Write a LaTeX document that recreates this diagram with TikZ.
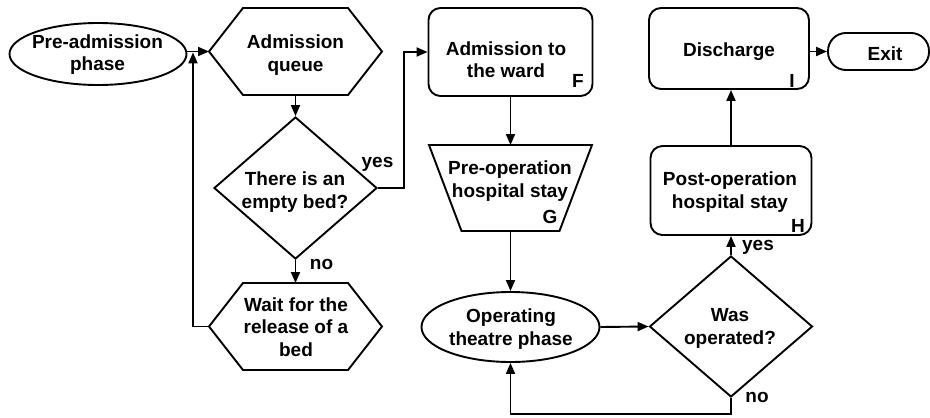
\documentclass[tikz,border=0pt]{standalone}
\usepackage{fontspec}
\setmainfont{Liberation Sans}
\usetikzlibrary{shapes.geometric,arrows.meta,calc}
\begin{document}
\begin{tikzpicture}[x=1pt,y=-1pt,line width=1.9pt,
  lbl/.style={font=\bfseries\fontsize{19}{22.5}\selectfont, align=center, inner sep=0pt, text depth=0pt},
  sm/.style={font=\bfseries\fontsize{19}{22.5}\selectfont, inner sep=0pt, anchor=base},
  outline/.style={draw, inner sep=0pt},
  frame/.style={inner sep=0pt, outer sep=0pt},
  rbox/.style={outline, rectangle, rounded corners=12pt},
  arr/.style={-{Triangle[length=11pt,width=9pt]}}]
\useasboundingbox (0,0) rectangle (930,418);

% shapes
\node[outline, ellipse, minimum width=177pt, minimum height=62pt] (pre) at (98,54) {};
\node[frame, minimum width=173pt, minimum height=87pt] (aq) at (295.5,51.5) {};
\draw (aq.west) -- ([xshift=34pt]aq.north west) -- ([xshift=-34pt]aq.north east) -- (aq.east)
  -- ([xshift=-34pt]aq.south east) -- ([xshift=34pt]aq.south west) -- cycle;
\node[outline, diamond, aspect=1.148, minimum width=163pt, minimum height=142pt] (bed) at (295.5,188) {};
\node[frame, minimum width=173pt, minimum height=87pt] (wait) at (295.5,326.5) {};
\draw (wait.west) -- ([xshift=34pt]wait.north west) -- ([xshift=-34pt]wait.north east) -- (wait.east)
  -- ([xshift=-34pt]wait.south east) -- ([xshift=34pt]wait.south west) -- cycle;
\node[rbox, minimum width=164pt, minimum height=88pt] (ward) at (510.5,52) {};
\node[frame, minimum width=163pt, minimum height=86pt] (preop) at (510.5,188) {};
\draw (preop.north west) -- (preop.north east) -- ([xshift=-32.5pt]preop.south east)
  -- ([xshift=32.5pt]preop.south west) -- cycle;
\node[outline, ellipse, minimum width=178pt, minimum height=70pt] (op) at (510.5,327) {};
\node[outline, diamond, aspect=1.156, minimum width=163pt, minimum height=141pt] (was) at (731,326.5) {};
\node[rbox, minimum width=161pt, minimum height=89pt] (post) at (731,190.5) {};
\node[rbox, minimum width=160pt, minimum height=81pt] (disc) at (729,48.5) {};
\node[outline, rectangle, rounded corners=18pt, minimum width=101pt, minimum height=37pt] (exit) at (878.5,51.5) {};

% texts
\node[lbl] (pre-t) at (97.5,52.5) {Pre-admission\\phase};
\node[lbl] (aq-t) at (295.5,53) {Admission\\queue};
\node[lbl] (bed-t) at (295,190) {There is an\\empty bed?};
\node[lbl] (wait-t) at (296,327) {Wait for the\\release of a\\bed};
\node[lbl] (ward-t) at (506,59.5) {Admission to\\the ward};
\node[lbl] (preop-t) at (510,179) {Pre-operation\\hospital stay};
\node[lbl] (op-t) at (511,327) {Operating\\theatre phase};
\node[lbl] (was-t) at (730,326.5) {Was\\operated?};
\node[lbl] (post-t) at (730,190) {Post-operation\\hospital stay};
\node[lbl] (disc-t) at (729,50) {Discharge};
\node[lbl] (exit-t) at (885,53.5) {Exit};

\node[sm] (lF) at (578,87) {F};
\node[sm] (lG) at (550,223) {G};
\node[sm] (lH) at (798,232) {H};
\node[sm] (lI) at (792,87) {I};

\node[sm] (yes1) at (377.5,167) {yes};
\node[sm] (no1) at (321.5,269) {no};
\node[sm] (yes2) at (758,250) {yes};
\node[sm] (no2) at (757,402) {no};

% connectors
\coordinate (loopx) at (193,0);
\draw[arr] (pre.east |- aq.west) -- (aq.west);
\draw[arr] (aq.south) -- (bed.north);
\draw[arr] (bed.south) -- (wait.north);
\draw[arr] (bed.east) -- ++(26,0) |- (ward.west);
\draw[arr] (wait.west) -- (wait.west -| loopx) -- ([yshift=-0.9pt]loopx |- aq.west);
\draw[arr] (ward.south) -- (preop.north);
\draw[arr] (preop.south) -- (op.north);
\draw[arr] (op.east) -- (was.west);
\draw[arr] (was.north) -- (post.south);
\draw[arr] (post.north) -- (post.north |- disc.south);
\draw[arr] (was.south) -- ++(0,16) -| (op.south);
\draw[arr] (disc.east |- exit.west) -- (exit.west);
\end{tikzpicture}
\end{document}
